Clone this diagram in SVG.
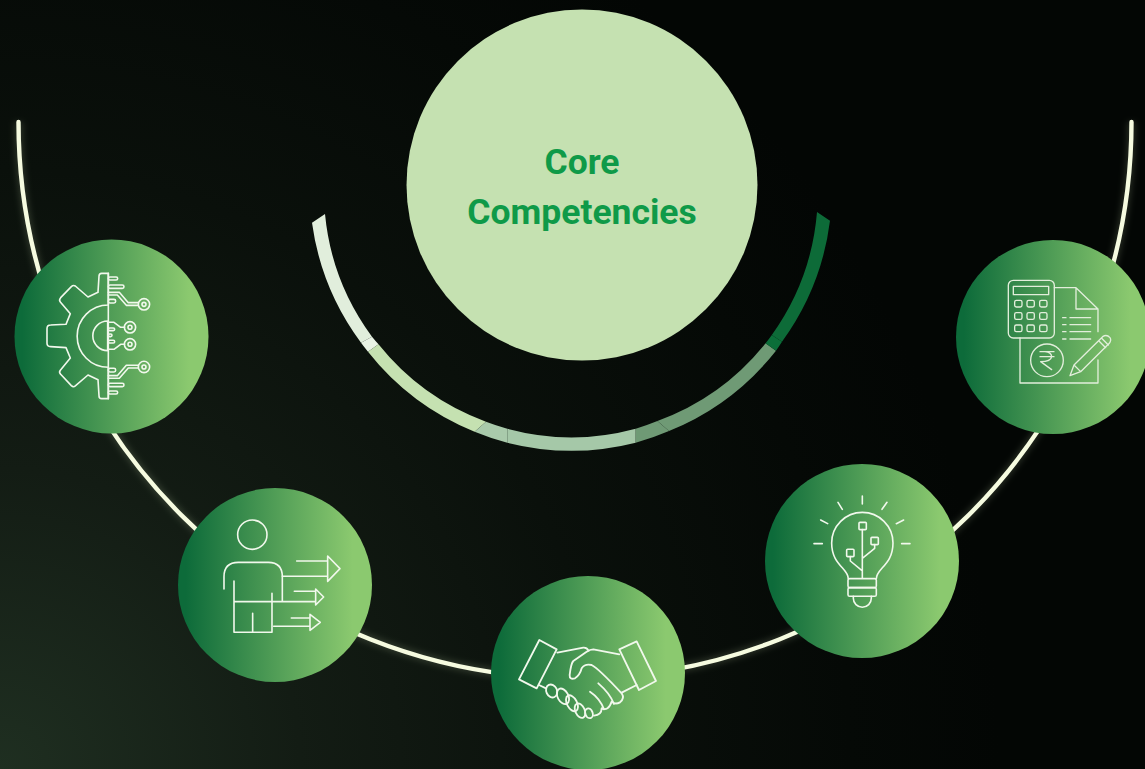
<svg xmlns="http://www.w3.org/2000/svg" width="1145" height="769" viewBox="0 0 1145 769">
<style>
.disc{fill:url(#nodeFill)}
.ic{fill:none;stroke:#f1f8ec;stroke-width:4.8;stroke-linecap:round;stroke-linejoin:round}
.ic2{fill:none;stroke:#e2eedb;stroke-width:4;stroke-linecap:round;stroke-linejoin:round}
.title{font-family:"Roboto","Liberation Sans",sans-serif;font-weight:700;font-size:35.5px;fill:#0f9a48;text-anchor:middle}
</style>
<defs>
<linearGradient id="nodeFill" x1="0" y1="0" x2="1" y2="0">
<stop offset="0.04" stop-color="#0d6b3a"/><stop offset="0.9" stop-color="#8bc96f"/>
</linearGradient>
<radialGradient id="bgGlow" gradientUnits="userSpaceOnUse" cx="0" cy="769" r="1000">
<stop offset="0" stop-color="#1f2f21"/><stop offset="0.3" stop-color="#131c14"/><stop offset="0.6" stop-color="#0a100b"/><stop offset="0.85" stop-color="#050906"/><stop offset="1" stop-color="#030604"/>
</radialGradient>
<filter id="glow" x="-10%" y="-10%" width="120%" height="120%"><feGaussianBlur stdDeviation="3"/></filter>
</defs>
<rect width="1145" height="769" fill="url(#bgGlow)"/>
<g id="connectors">
<path d="M18.500 122A556.500 556.500 0 0 0 1131.500 122" fill="none" stroke="#dff5c0" stroke-opacity=".16" stroke-width="8" filter="url(#glow)"/>
<path d="M18.500 122A556.500 556.500 0 0 0 1131.500 122" fill="none" stroke="#f6fbe0" stroke-width="4.400" stroke-linecap="round"/>
</g>
<g id="ring">
<path d="M312 222.7A261 261 0 0 0 361 342.7L372 336.7A246 246 0 0 1 325 214Z" fill="#e1eedc"/>
<path d="M361 342.7A261 261 0 0 0 368 351.7L378.500 344.300A246 246 0 0 1 372 336.7Z" fill="#e9f3e5"/>
<path d="M368 351.7A261 261 0 0 0 474.600 431.700L486 421.700A246 246 0 0 1 378.500 344.300Z" fill="#c5e1b1"/>
<path d="M474.600 431.700A261 261 0 0 0 507.300 442.700L507.300 428.700A246 246 0 0 1 486 421.700Z" fill="#a9caab"/>
<path d="M507.300 442.700A261 261 0 0 0 635.700 442.700L635.700 428.700A246 246 0 0 1 507.300 428.700Z" fill="#a5c8a8"/>
<path d="M635.700 442.700A261 261 0 0 0 669 431L657.400 421A246 246 0 0 1 635.700 428.700Z" fill="#6f9a75"/>
<path d="M669 431A261 261 0 0 0 776 350.700L765.600 343.300A246 246 0 0 1 657.400 421Z" fill="#6f9a75"/>
<path d="M776 350.700A261 261 0 0 0 782 341.700L771.800 335A246 246 0 0 1 765.600 343.300Z" fill="#0b6e39"/>
<path d="M782 341.700A261 261 0 0 0 830 220.700L817 212A246 246 0 0 1 771.800 335Z" fill="#0d6b38"/>
</g>
<g id="node-core">
<circle cx="582" cy="185" r="175.500" fill="#c5e1b1"/>
<text class="title" x="582" y="174">Core</text>
<text class="title" x="582" y="224">Competencies</text>
</g>
<g id="node-gear">
<circle class="disc" cx="111.500" cy="336.500" r="97"/>
<g class="ic" transform="translate(10 235) scale(.3333)">
<path d="M295 115H275Q267 115 267 124L264 172L234 186L196 153Q190 149 184 155L152 188Q146 195 151 201L181 236L168 268L122 270Q111 270 111 281V325Q111 335 122 335L168 338L181 369L151 406Q146 412 152 418L184 452Q190 458 196 453L234 420L264 434L267 482Q267 491 275 491H295Z"/>
<path d="M295 115V210M295 397V491M295 210A93 93 0 0 0 295 397"/>
<path d="M293 258V347M293 258A44.500 44.500 0 0 0 293 347"/>
<rect x="295" y="126" width="28" height="9" rx="4.500"/><rect x="295" y="150" width="47" height="10" rx="5"/>
<rect x="295" y="193" width="22" height="11" rx="5"/><rect x="295" y="400" width="22" height="11" rx="5"/>
<rect x="295" y="445" width="47" height="10" rx="5"/><rect x="295" y="468" width="28" height="9" rx="4.500"/>
<path d="M295 172H328L355 203H385M295 180H322L349 211H385M295 422H322L349 391H385M295 430H328L355 399H385"/>
<circle cx="402" cy="208" r="17"/><circle cx="402" cy="208" r="6"/><circle cx="402" cy="396" r="17"/><circle cx="402" cy="396" r="6"/>
<path d="M295 262H312L332 277H344M295 343H312L332 328H344"/>
<circle cx="360" cy="277" r="17"/><circle cx="360" cy="277" r="6"/><circle cx="360" cy="328" r="17"/><circle cx="360" cy="328" r="6"/>
<rect x="295" y="279" width="19" height="8" rx="4"/><rect x="295" y="297" width="11" height="8" rx="4"/><rect x="295" y="316" width="19" height="8" rx="4"/>
</g>
</g>
<g id="node-person">
<circle class="disc" cx="275" cy="585" r="97"/>
<g class="ic" transform="translate(175 485) scale(.3333)">
<circle cx="232" cy="149" r="44"/>
<path d="M147 312V275Q147 232 190 232H280Q322 232 322 275V348"/>
<path d="M177 288V442H291V325M177 350H420M233 385V442"/>
<path d="M365 228H458M322 274H458M458 213L495 251L458 289Z"/>
<path d="M358 319H422M422 312L446 336L422 360Z"/>
<path d="M349 399H405M296 424H405M405 388L436 412L405 436Z"/>
</g>
</g>
<g id="node-handshake">
<circle class="disc" cx="588" cy="673" r="97"/>
<g class="ic" transform="translate(490 600) scale(.3333)" style="stroke-width:5.500">
<path d="M148 120L200 148L140 265L87 238Z"/>
<path d="M388 148L440 124L498 243L447 270Z"/>
<path d="M202 158L280 143Q290 142 296 152"/>
<path d="M388 163L310 148Q300 148 290 155L250 183Q243 190 239 225Q238 240 255 235Q270 225 275 205Q285 190 305 195Q325 205 395 280Q405 295 390 307Q375 315 365 305Q355 335 335 325Q335 345 312 347"/>
<path d="M395 278L440 255M147 255L168 265"/>
<path d="M325 250Q360 280 372 312M300 275Q330 295 342 328"/>
<ellipse cx="185" cy="273" rx="16" ry="20" transform="rotate(-25 185 273)"/>
<ellipse cx="219" cy="289" rx="16" ry="25" transform="rotate(-28 219 289)"/>
<ellipse cx="246" cy="310" rx="15" ry="26" transform="rotate(-28 246 310)"/>
<ellipse cx="270" cy="332" rx="14" ry="23" transform="rotate(-25 270 332)"/>
<ellipse cx="297" cy="340" rx="11" ry="15" transform="rotate(-20 297 340)"/>
</g>
</g>
<g id="node-bulb">
<circle class="disc" cx="862" cy="561" r="97"/>
<g class="ic" transform="translate(765 465) scale(.3333)">
<path d="M292 93V117M219 112L232 133M366 112L351 133M167 165L188 176M416 165L394 176M147 236H172M410 236H435"/>
<path d="M250 341C250 310 200 300 200 234A92 92 0 0 1 384 234C384 300 334 310 334 341"/>
<rect x="249" y="341" width="85" height="27" rx="5"/><rect x="249" y="368" width="85" height="26" rx="5"/>
<path d="M265 394V400A27 27 0 0 0 319 400V394"/>
<rect x="282" y="172" width="22" height="22" rx="3"/><rect x="318" y="217" width="22" height="22" rx="3"/><rect x="245" y="253" width="22" height="22" rx="3"/>
<path d="M292 194V340M329 239V250L292 280M256 275V288L292 318"/>
</g>
</g>
<g id="node-finance">
<circle class="disc" cx="1053" cy="337" r="97"/>
<g class="ic2" transform="translate(950 235) scale(.3333)">
<rect x="175" y="136" width="138" height="173" rx="15"/><rect x="190" y="154" width="106" height="25"/>
<rect x="194" y="196" width="22" height="20" rx="5"/><rect x="231" y="196" width="22" height="20" rx="5"/><rect x="269" y="196" width="22" height="20" rx="5"/>
<rect x="194" y="233" width="22" height="20" rx="5"/><rect x="231" y="233" width="22" height="20" rx="5"/><rect x="269" y="233" width="22" height="20" rx="5"/>
<rect x="194" y="270" width="22" height="20" rx="5"/><rect x="231" y="270" width="22" height="20" rx="5"/><rect x="269" y="270" width="22" height="20" rx="5"/>
<path d="M313 158H378L444 222V290M444 375V444H210V309M378 158V222H444"/>
<path d="M338 248H348M360 248H422M338 269H348M360 269H422M338 290H348M360 290H422M338 312H348M360 312H422"/>
<circle cx="291" cy="376" r="49"/>
<path d="M270 350H312M270 365H312M270 350H285Q305 352 305 365Q303 380 272 380L305 404"/>
<path d="M360 422L372 390L458 305Q470 297 480 308Q485 315 478 325L392 410ZM372 390L392 410M447 318L467 338M455 310L475 330"/>
</g>
</g>
</svg>
